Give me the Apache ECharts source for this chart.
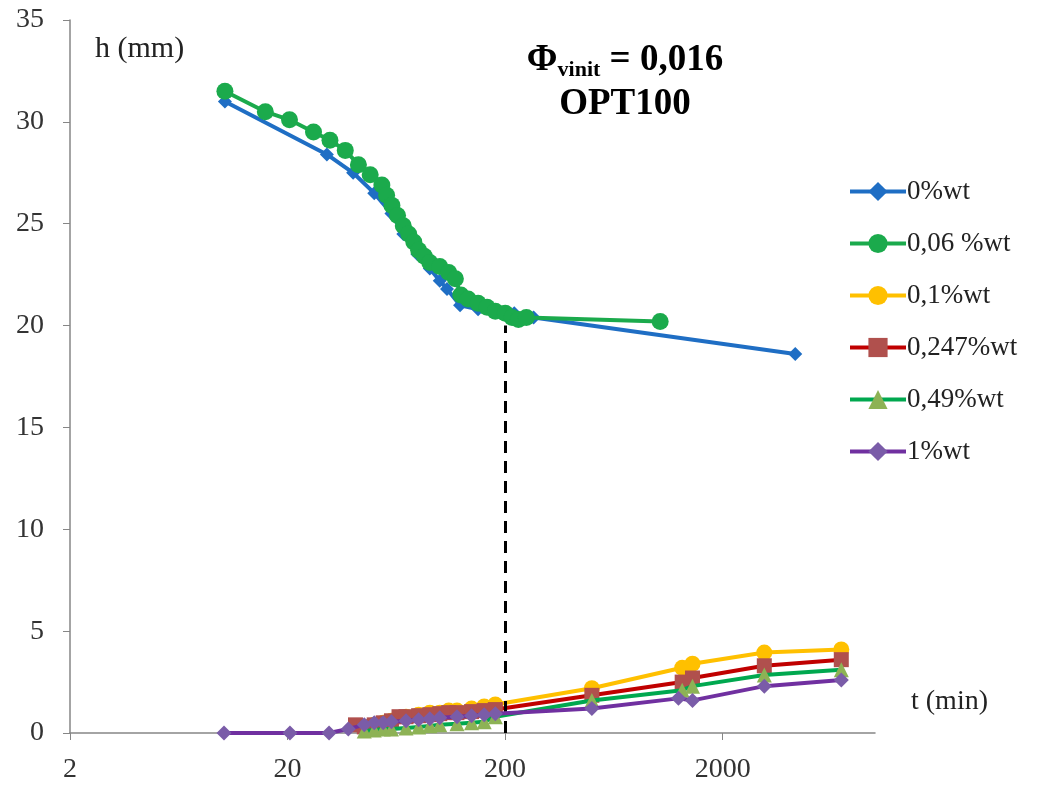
<!DOCTYPE html>
<html>
<head>
<meta charset="utf-8">
<script src="https://cdn.jsdelivr.net/npm/echarts@6/dist/echarts.min.js"></script>
<style>html,body{margin:0;padding:0;background:#fff}#c{width:1046px;height:787px}</style>
</head>
<body>
<div id="c"></div>
<script>
// ---- data (t in min, h in mm) ----
const seriesNames = ['0%wt', '0,06 %wt', '0,1%wt', '0,247%wt', '0,49%wt', '1%wt'];

const t0 = [10.3, 30.3, 40, 50, 60, 68, 79, 90, 100, 108, 124, 150, 180, 220, 270, 4300];
const h0 = [31.0, 28.4, 27.5, 26.5, 25.5, 24.5, 23.5, 22.8, 22.2, 21.8, 21.0, 20.8, 20.7, 20.6, 20.4, 18.6];

const t006 = [10.3, 15.8, 20.4, 26.3, 31.3, 36.8, 42.3, 47.9, 54.2, 57, 60.3, 64, 68, 72, 76, 80, 85, 90, 100, 110, 118, 125, 135, 150, 165, 180, 200, 215, 230, 250, 1030];
const h006 = [31.5, 30.5, 30.1, 29.5, 29.1, 28.6, 27.9, 27.4, 26.9, 26.4, 25.9, 25.4, 24.9, 24.5, 24.1, 23.7, 23.4, 23.1, 22.9, 22.6, 22.3, 21.5, 21.3, 21.1, 20.9, 20.7, 20.6, 20.4, 20.3, 20.4, 20.2];

const t01 = [45, 50, 55, 60, 70, 80, 90, 100, 110, 120, 140, 160, 180, 500, 1300, 1450, 3100, 7000];
const h01 = [0.3, 0.4, 0.5, 0.6, 0.8, 0.9, 1.0, 1.0, 1.1, 1.1, 1.2, 1.3, 1.4, 2.2, 3.2, 3.4, 3.95, 4.1];

const t0247 = [41, 45, 50, 55, 60, 65, 70, 80, 90, 100, 110, 120, 140, 160, 180, 500, 1300, 1450, 3100, 7000];
const h0247 = [0.4, 0.3, 0.4, 0.5, 0.6, 0.8, 0.8, 0.85, 0.9, 0.95, 1.0, 1.0, 1.05, 1.1, 1.15, 1.85, 2.5, 2.7, 3.3, 3.6];

const t049 = [45, 50, 55, 60, 70, 80, 90, 100, 120, 140, 160, 180, 500, 1300, 1450, 3100, 7000];
const h049 = [0.1, 0.15, 0.2, 0.2, 0.25, 0.3, 0.35, 0.4, 0.45, 0.5, 0.55, 0.8, 1.6, 2.1, 2.3, 2.85, 3.1];

const t1 = [10.2, 20.5, 31, 38, 45, 50, 55, 60, 70, 80, 90, 100, 120, 140, 160, 180, 500, 1250, 1450, 3100, 7000];
const h1 = [0, 0, 0, 0.2, 0.4, 0.5, 0.5, 0.55, 0.6, 0.65, 0.7, 0.75, 0.8, 0.85, 0.9, 0.95, 1.2, 1.7, 1.6, 2.3, 2.6];

const xTickLabels = [2, 20, 200, 2000];
const yTickLabels = [0, 5, 10, 15, 20, 25, 30, 35];
const dashedT = 200;
const dashedTop = 20.0;

// ---- chart ----
const serif = '"Liberation Serif", "DejaVu Serif", serif';
function pairs(t, h) { return t.map((v, i) => [v, h[i]]); }

const chart = echarts.init(document.getElementById('c'));
const option = {
  backgroundColor: '#fff',
  animation: false,
  title: [
    {
      text: '{phi|Φ}{sub|vinit}{b| = 0,016}\n{b|OPT100}',
      left: 620, top: 33, textAlign: 'center',
      textStyle: {
        rich: {
          phi: { fontFamily: serif, fontSize: 37, fontWeight: 'bold', color: '#000', lineHeight: 44 },
          sub: { fontFamily: serif, fontSize: 22, fontWeight: 'bold', color: '#000', padding: [20, 0, 0, 0], lineHeight: 44 },
          b: { fontFamily: serif, fontSize: 37, fontWeight: 'bold', color: '#000', lineHeight: 44, align: 'center' }
        }
      }
    },
    { text: 'h (mm)', left: 90, top: 29, textStyle: { fontFamily: serif, fontSize: 30, fontWeight: 'normal', color: '#222' } },
    { text: 't (min)', left: 906, top: 683, textStyle: { fontFamily: serif, fontSize: 28, fontWeight: 'normal', color: '#222' } }
  ],
  legend: {
    orient: 'vertical',
    left: 843, top: 173,
    itemWidth: 56, itemHeight: 24, itemGap: 25,
    lineStyle: { width: 4 },
    textStyle: { fontFamily: serif, fontSize: 27, color: '#222', padding: [0, 0, 0, -4] },
    data: seriesNames
  },
  grid: { left: 70, right: 171, top: 20, bottom: 54, containLabel: false },
  xAxis: {
    type: 'log', logBase: 10, min: 2, max: 10000, interval: 1,
    axisLine: { lineStyle: { color: '#868686', width: 1.5 } },
    axisTick: { show: true, length: 7, lineStyle: { color: '#868686' } },
    axisLabel: {
      fontFamily: serif, fontSize: 28, color: '#333', margin: 23, showMaxLabel: false,
      formatter: function (v) {
        const r = Number(Number(v).toPrecision(1));
        return xTickLabels.indexOf(r) >= 0 ? String(r) : '';
      }
    },
    splitLine: { show: false },
    minorTick: { show: false }
  },
  yAxis: {
    type: 'value', min: 0, max: 35, interval: 5,
    axisLine: { show: true, lineStyle: { color: '#868686', width: 1.5 } },
    axisTick: { show: true, length: 7, lineStyle: { color: '#868686' } },
    axisLabel: { fontFamily: serif, fontSize: 28, color: '#333', margin: 26,
      formatter: v => (yTickLabels.indexOf(v) >= 0 ? String(v) : '') },
    splitLine: { show: false }
  },
  series: [
    {
      name: seriesNames[0], type: 'line', data: pairs(t0, h0),
      lineStyle: { color: '#1F6EC4', width: 4 },
      itemStyle: { color: '#1F6EC4' },
      symbol: 'diamond', symbolSize: 14, z: 2
    },
    {
      name: seriesNames[1], type: 'line', data: pairs(t006, h006),
      lineStyle: { color: '#1BAA4C', width: 4 },
      itemStyle: { color: '#1BAA4C' },
      symbol: 'circle', symbolSize: 17, z: 3
    },
    {
      name: seriesNames[2], type: 'line', data: pairs(t01, h01),
      lineStyle: { color: '#FFC000', width: 4 },
      itemStyle: { color: '#FFC000' },
      symbol: 'circle', symbolSize: 16, z: 3
    },
    {
      name: seriesNames[3], type: 'line', data: pairs(t0247, h0247),
      lineStyle: { color: '#C00000', width: 4 },
      itemStyle: { color: '#B0504D' },
      symbol: 'rect', symbolSize: 15, z: 4
    },
    {
      name: seriesNames[4], type: 'line', data: pairs(t049, h049),
      lineStyle: { color: '#00A84F', width: 4 },
      itemStyle: { color: '#8DB255' },
      symbol: 'triangle', symbolSize: 15, z: 5
    },
    {
      name: seriesNames[5], type: 'line', data: pairs(t1, h1),
      lineStyle: { color: '#7030A0', width: 4 },
      itemStyle: { color: '#7A5CA8' },
      symbol: 'diamond', symbolSize: 15, z: 6,
      markLine: {
        silent: true, symbol: ['none', 'none'], label: { show: false },
        lineStyle: { color: '#000', width: 3, type: [12, 8] },
        data: [[{ coord: [dashedT, 0] }, { coord: [dashedT, dashedTop] }]]
      }
    }
  ]
};
chart.setOption(option);
</script>
</body>
</html>
